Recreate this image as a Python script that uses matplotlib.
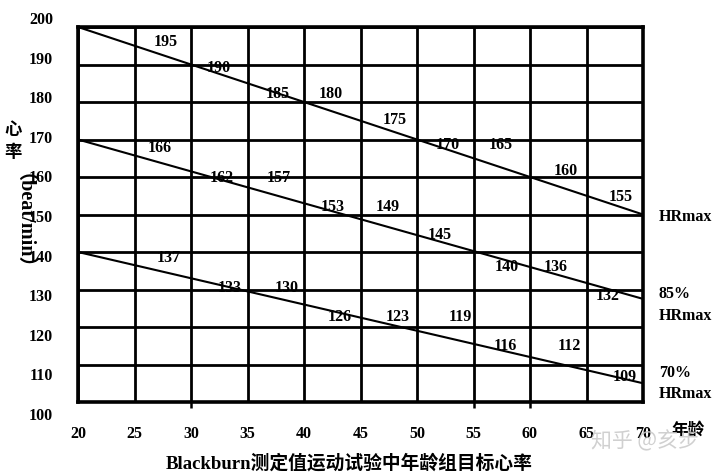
import matplotlib
matplotlib.use('Agg')
import matplotlib.pyplot as plt

# ---- data ----
ages = [25, 30, 35, 40, 45, 50, 55, 60, 65]
hrmax_vals = [195, 190, 185, 180, 175, 170, 165, 160, 155]
hr85_vals = [166, 162, 157, 153, 149, 145, 140, 136, 132]
hr70_vals = [137, 133, 130, 126, 123, 119, 116, 112, 109]

line_ages = [20, 70]
hrmax_line = [200, 150]
hr85_line = [170, 127.5]
hr70_line = [140, 105]

x_ticks = [20, 25, 30, 35, 40, 45, 50, 55, 60, 65, 70]
y_ticks = [100, 110, 120, 130, 140, 150, 160, 170, 180, 190, 200]
small_marks = [30, 55, 60]

series_names = ['HRmax', '85%\nHRmax', '70%\nHRmax']

# ---- label placement (annotation positions, data coords) ----
hrmax_lx = [27.8, 32.5, 37.7, 42.4, 48.0, 52.7, 57.4, 63.2, 68.0]
hrmax_ly = [196.0, 189.1, 182.1, 182.1, 175.2, 168.5, 168.5, 161.6, 154.7]
hr85_lx = [27.2, 32.7, 37.8, 42.5, 47.4, 52.0, 57.9, 62.3, 66.9]
hr85_ly = [167.7, 159.7, 159.7, 152.0, 152.0, 144.6, 136.0, 136.0, 128.3]
hr70_lx = [28.0, 33.4, 38.5, 43.2, 48.3, 53.8, 57.8, 63.5, 68.4]
hr70_ly = [138.4, 130.4, 130.4, 122.7, 122.7, 122.7, 114.9, 114.9, 106.7]

SERIF = ['Liberation Serif', 'Noto Sans CJK SC', 'DejaVu Sans']
plt.rcParams['font.family'] = SERIF

W, H = 720, 476
fig = plt.figure(figsize=(W / 100, H / 100), dpi=100)
fig.patch.set_facecolor('white')

L, R, T, B = 78, 643, 27, 402
ax = fig.add_axes([L / W, (H - B) / H, (R - L) / W, (B - T) / H])
ax.set_xlim(20, 70)
ax.set_ylim(100, 200)
ax.set_xticks(x_ticks)
ax.set_xticklabels([str(v) for v in x_ticks], fontsize=11.5, fontweight='bold')
ax.set_yticks(y_ticks)
ax.tick_params(axis='y', length=0, labelleft=False)
ax.tick_params(axis='x', which='major', length=0, pad=17)
ax.xaxis.remove_overlapping_locs = False
ax.set_xticks(small_marks, minor=True)
ax.tick_params(axis='x', which='minor', direction='out', length=4.5, width=1.8, color='black')
ax.grid(True, color='black', linewidth=2.0)
ax.set_axisbelow(True)
for s in ax.spines.values():
    s.set_linewidth(2.6)
    s.set_color('black')

for yv in (hrmax_line, hr85_line, hr70_line):
    ax.plot(line_ages, yv, color='black', linewidth=1.5, solid_capstyle='butt', clip_on=False, zorder=3)

for lx, ly, vals in ((hrmax_lx, hrmax_ly, hrmax_vals),
                     (hr85_lx, hr85_ly, hr85_vals),
                     (hr70_lx, hr70_ly, hr70_vals)):
    for x, y, v in zip(lx, ly, vals):
        ax.text(x, y, str(v), ha='center', va='center', fontsize=11.5,
                fontweight='bold', zorder=4)

# right-side series names
ax.text(71.4, 149.3, series_names[0], ha='left', va='center', fontsize=11.5,
        fontweight='bold', clip_on=False)
ax.text(71.4, 125.9, series_names[1], ha='left', va='center', fontsize=11.5,
        fontweight='bold', clip_on=False, linespacing=1.45)
ax.text(71.4, 105.0, series_names[2], ha='left', va='center', fontsize=11.5,
        fontweight='bold', clip_on=False, linespacing=1.45)

# y tick labels on a separate scale (offset like the reference)
ay = fig.add_axes([L / W, (H - 414) / H, (R - L) / W, (414 - 18) / H])
ay.set_ylim(100, 200)
ay.set_yticks(y_ticks)
ay.set_yticklabels([str(v) for v in y_ticks], fontsize=11.5, fontweight='bold')
ay.tick_params(axis='y', length=0, pad=18)
ay.set_xticks([])
ay.patch.set_alpha(0)
for s in ay.spines.values():
    s.set_visible(False)

# y axis label: upright CJK characters, rotated latin part
fig.text(13 / W, 1 - 130.5 / H, '心', ha='center', va='center', fontsize=12.5,
         fontweight='bold', family=SERIF)
fig.text(13 / W, 1 - 153 / H, '率', ha='center', va='center', fontsize=12.5,
         fontweight='bold', family=SERIF)
fig.text(13 / W, 1 - 231 / H, '（beat/min）', ha='center', va='center', fontsize=14.5,
         fontweight='bold', family=SERIF, rotation=-90)

# x axis label
fig.text(688 / W, 1 - 431 / H, '年龄', ha='center', va='center', fontsize=12,
         fontweight='bold', family=SERIF)
fig.text(349 / W, 1 - 463 / H, 'Blackburn测定值运动试验中年龄组目标心率', ha='center',
         va='center', fontsize=13.5, fontweight='bold', family=SERIF)

# watermark
fig.text(645 / W, 1 - 441 / H, '知乎 @亥步', ha='center', va='center', fontsize=15,
         color='#c8c8c8', family=['Noto Sans CJK SC', 'DejaVu Sans'], alpha=0.85, zorder=5)

fig.savefig('out.png', dpi=100)
